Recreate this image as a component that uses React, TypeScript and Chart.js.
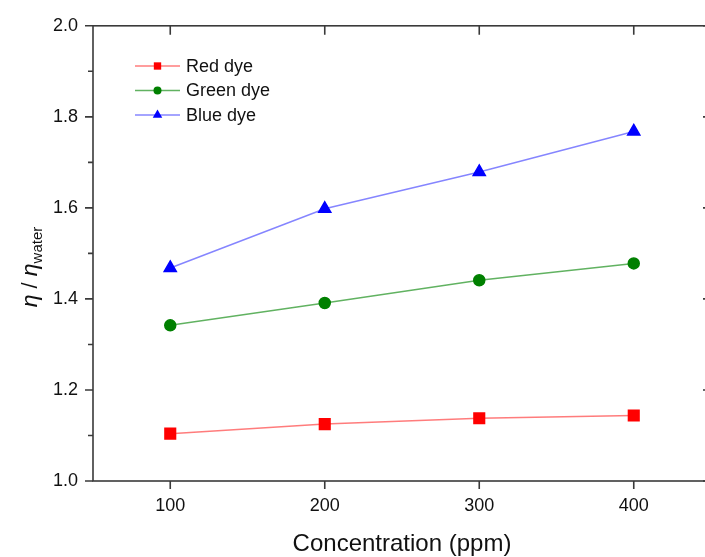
import React, { useEffect, useRef } from "react";
import { Chart, registerables } from "chart.js";

Chart.register(...registerables);

const concentrations = [100, 200, 300, 400];
const redDye = [1.104, 1.125, 1.138, 1.144];
const greenDye = [1.342, 1.391, 1.441, 1.478];
const blueDye = [1.468, 1.598, 1.679, 1.768];
const xTicks = [100, 200, 300, 400];
const yTicks = [1.0, 1.2, 1.4, 1.6, 1.8, 2.0];
const yMinorTicks = [1.1, 1.3, 1.5, 1.7, 1.9];
const seriesLabels = ["Red dye", "Green dye", "Blue dye"];
const xTitle = "Concentration (ppm)";

const FONT = "'Liberation Sans', Arial, sans-serif";
const AXIS = "#3a3a3a";

function drawMarker(ctx: CanvasRenderingContext2D, style: string, x: number, y: number, r: number, color: string) {
  ctx.save();
  ctx.fillStyle = color;
  ctx.beginPath();
  if (style === "rect") {
    const s = Math.SQRT1_2 * r;
    ctx.rect(x - s, y - s, 2 * s, 2 * s);
  } else if (style === "circle") {
    ctx.arc(x, y, r, 0, Math.PI * 2);
  } else {
    const w = r * Math.sin(Math.PI / 3);
    ctx.moveTo(x, y - r);
    ctx.lineTo(x + w, y + r / 2);
    ctx.lineTo(x - w, y + r / 2);
    ctx.closePath();
  }
  ctx.fill();
  ctx.restore();
}

const framePlugin = {
  id: "frame",
  afterDraw(chart: any) {
    const ctx: CanvasRenderingContext2D = chart.ctx;
    const { left, right, top, bottom } = chart.chartArea;
    const xs = chart.scales.x;
    const ys = chart.scales.y;
    ctx.save();
    ctx.strokeStyle = AXIS;
    ctx.lineWidth = 1.6;
    ctx.strokeRect(left, top, right - left, bottom - top);
    ctx.beginPath();
    const major = 8;
    const minor = 5;
    xTicks.forEach((v) => {
      const px = xs.getPixelForValue(v);
      ctx.moveTo(px, bottom);
      ctx.lineTo(px, bottom + major);
      ctx.moveTo(px, top);
      ctx.lineTo(px, top + major + 1);
    });
    yTicks.forEach((v) => {
      const py = ys.getPixelForValue(v);
      ctx.moveTo(left, py);
      ctx.lineTo(left - major, py);
      ctx.moveTo(right, py);
      ctx.lineTo(right - major, py);
    });
    yMinorTicks.forEach((v) => {
      const py = ys.getPixelForValue(v);
      ctx.moveTo(left, py);
      ctx.lineTo(left - minor, py);
      ctx.moveTo(right, py);
      ctx.lineTo(right - minor, py);
    });
    ctx.stroke();

    // x title
    ctx.fillStyle = "#111";
    ctx.font = `24px ${FONT}`;
    ctx.textAlign = "center";
    ctx.textBaseline = "middle";
    ctx.fillText(xTitle, (left + right) / 2, 544);

    // y title: η / η_water
    ctx.save();
    ctx.translate(31, 267);
    ctx.rotate(-Math.PI / 2);
    const p1 = "η";
    const p2 = " / ";
    const p3 = "η";
    const sub = "water";
    ctx.font = `italic 23px ${FONT}`;
    const w1 = ctx.measureText(p1).width;
    ctx.font = `22px ${FONT}`;
    const w2 = ctx.measureText(p2).width;
    ctx.font = `italic 23px ${FONT}`;
    const w3 = ctx.measureText(p3).width;
    ctx.font = `15px ${FONT}`;
    const w4 = ctx.measureText(sub).width;
    const total = w1 + w2 + w3 + w4;
    let cx = -total / 2;
    ctx.textAlign = "left";
    ctx.textBaseline = "alphabetic";
    ctx.font = `italic 23px ${FONT}`;
    ctx.fillText(p1, cx, 6);
    cx += w1;
    ctx.font = `22px ${FONT}`;
    ctx.fillText(p2, cx, 6);
    cx += w2;
    ctx.font = `italic 23px ${FONT}`;
    ctx.fillText(p3, cx, 6);
    cx += w3;
    ctx.font = `15px ${FONT}`;
    ctx.fillText(sub, cx, 11);
    ctx.restore();

    // legend
    const ds = chart.data.datasets;
    const legendSizes = [5.2, 4, 5.5];
    const rowYs = [66, 90.5, 115];
    ds.forEach((d: any, i: number) => {
      const y = rowYs[i];
      ctx.strokeStyle = d.borderColor;
      ctx.lineWidth = 1.5;
      ctx.beginPath();
      ctx.moveTo(135, y);
      ctx.lineTo(180, y);
      ctx.stroke();
      drawMarker(ctx, d.pointStyle, 157.5, y, legendSizes[i], d.pointBackgroundColor);
      ctx.fillStyle = "#111";
      ctx.font = `18px ${FONT}`;
      ctx.textAlign = "left";
      ctx.textBaseline = "middle";
      ctx.fillText(d.label, 186, y + 1);
    });
    ctx.restore();
  },
};

export default function App() {
  const ref = useRef<HTMLCanvasElement | null>(null);
  useEffect(() => {
    if (!ref.current) return;
    const chart = new Chart(ref.current, {
      type: "line",
      data: {
        datasets: [
          {
            label: seriesLabels[0],
            data: concentrations.map((x, i) => ({ x, y: redDye[i] })),
            borderColor: "rgba(255,110,110,0.9)",
            pointBackgroundColor: "#ff0000",
            pointBorderColor: "#ff0000",
            pointStyle: "rect",
            pointRadius: 7.5,
            borderWidth: 1.5,
          },
          {
            label: seriesLabels[1],
            data: concentrations.map((x, i) => ({ x, y: greenDye[i] })),
            borderColor: "rgba(80,170,80,0.9)",
            pointBackgroundColor: "#008000",
            pointBorderColor: "#008000",
            pointStyle: "circle",
            pointRadius: 5.5,
            borderWidth: 1.5,
          },
          {
            label: seriesLabels[2],
            data: concentrations.map((x, i) => ({ x, y: blueDye[i] })),
            borderColor: "rgba(120,120,255,0.9)",
            pointBackgroundColor: "#0000ff",
            pointBorderColor: "#0000ff",
            pointStyle: "triangle",
            pointRadius: 7,
            borderWidth: 1.5,
          },
        ],
      },
      options: {
        animation: false,
        responsive: false,
        devicePixelRatio: 1,
        layout: { padding: { top: 24, right: 7, left: 0, bottom: 0 } },
        plugins: { legend: { display: false }, tooltip: { enabled: false } },
        scales: {
          x: {
            type: "linear",
            min: 50,
            max: 450,
            afterBuildTicks: (s: any) => {
              s.ticks = xTicks.map((v) => ({ value: v }));
            },
            afterFit: (s: any) => {
              s.height = 76;
            },
            grid: { display: false, drawTicks: false, tickLength: 0 },
            border: { display: false },
            ticks: {
              padding: 14,
              color: "#111",
              font: { family: FONT, size: 18 },
              maxRotation: 0,
              callback: (v: any) => String(v),
            },
          },
          y: {
            type: "linear",
            min: 1.0,
            max: 2.0,
            afterBuildTicks: (s: any) => {
              s.ticks = yTicks.map((v) => ({ value: v }));
            },
            afterFit: (s: any) => {
              s.width = 93;
            },
            grid: { display: false, drawTicks: false, tickLength: 0 },
            border: { display: false },
            ticks: {
              padding: 15,
              color: "#111",
              font: { family: FONT, size: 18 },
              callback: (v: any) => Number(v).toFixed(1),
            },
          },
        },
      },
      plugins: [framePlugin],
    } as any);
    return () => chart.destroy();
  }, []);
  return (
    <div
      style={{
        position: "absolute",
        left: 0,
        top: 0,
        width: 705,
        height: 557,
        overflow: "hidden",
        background: "#fff",
      }}
    >
      <canvas ref={ref} width={720} height={557} style={{ width: 720, height: 557, display: "block" }} />
    </div>
  );
}
